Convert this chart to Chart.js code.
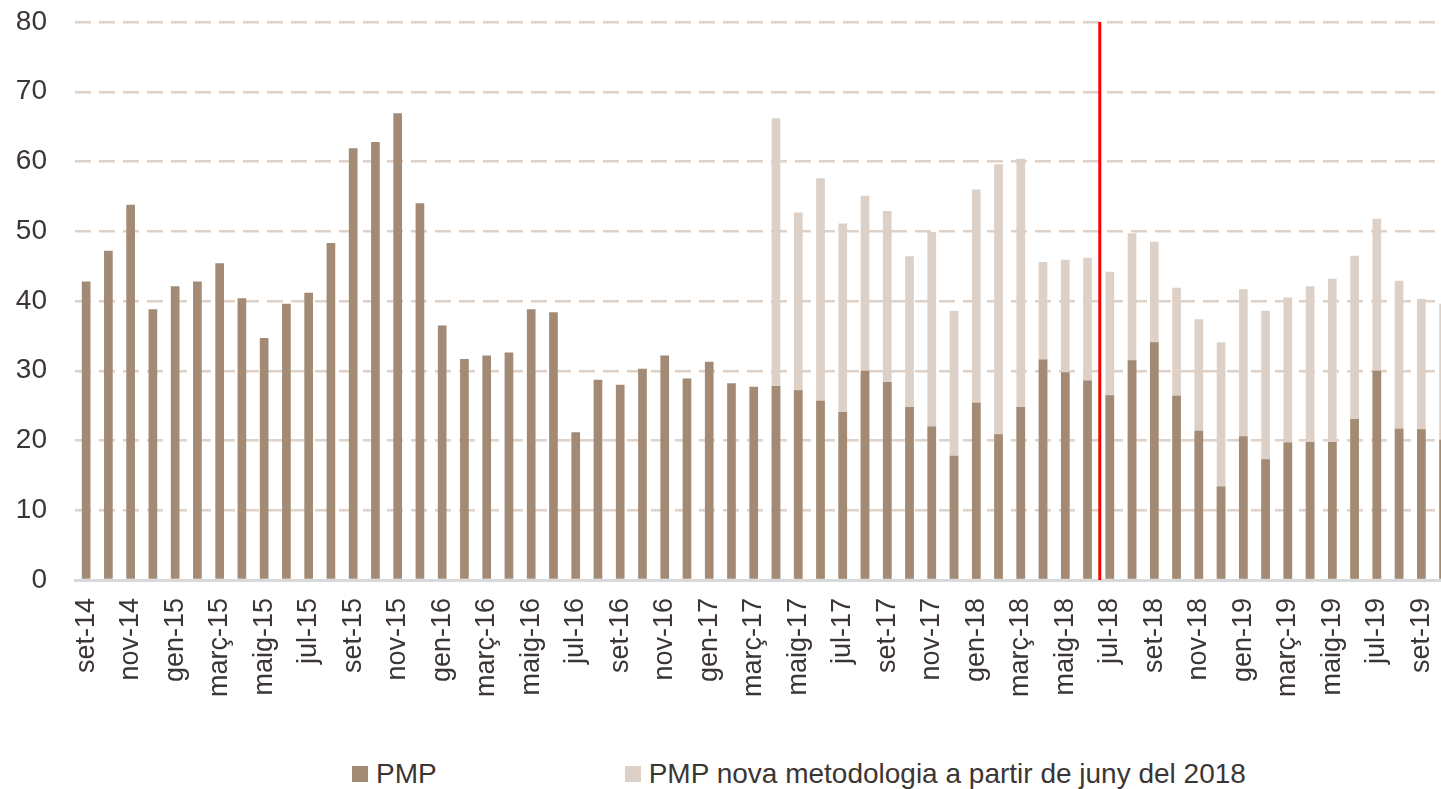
<!DOCTYPE html>
<html lang="ca">
<head>
<meta charset="utf-8">
<title>PMP</title>
<script src="https://cdn.jsdelivr.net/npm/chart.js@4/dist/chart.umd.min.js"></script>
<style>
    html, body {
        margin: 0;
        padding: 0;
        background: #ffffff;
        overflow: hidden;
        width: 1441px;
        height: 789px;
    }
    #chartBox {
        position: absolute;
        left: 0;
        top: 0;
        width: 1494px;
        height: 730px;
    }
    #legend {
        position: absolute;
        left: 352px;
        top: 757px;
        height: 34px;
        display: flex;
        align-items: center;
        font-family: "Liberation Sans", Arial, sans-serif;
        font-size: 28px;
        color: #3b3633;
        white-space: nowrap;
    }
    .legend-item {
        display: flex;
        align-items: center;
    }
    .legend-box {
        width: 16px;
        height: 16px;
        margin-right: 8px;
    }
</style>
</head>
<body>
<div id="chartBox"><canvas id="pmpChart"></canvas></div>
<div id="legend"></div>

<script>
// months, set-14 .. oct-19
const labels = [
    'set-14', 'oct-14', 'nov-14', 'des-14',
    'gen-15', 'febr-15', 'març-15', 'abr-15', 'maig-15', 'juny-15', 'jul-15', 'ag-15', 'set-15', 'oct-15', 'nov-15', 'des-15',
    'gen-16', 'febr-16', 'març-16', 'abr-16', 'maig-16', 'juny-16', 'jul-16', 'ag-16', 'set-16', 'oct-16', 'nov-16', 'des-16',
    'gen-17', 'febr-17', 'març-17', 'abr-17', 'maig-17', 'juny-17', 'jul-17', 'ag-17', 'set-17', 'oct-17', 'nov-17', 'des-17',
    'gen-18', 'febr-18', 'març-18', 'abr-18', 'maig-18', 'juny-18', 'jul-18', 'ag-18', 'set-18', 'oct-18', 'nov-18', 'des-18',
    'gen-19', 'febr-19', 'març-19', 'abr-19', 'maig-19', 'juny-19', 'jul-19', 'ag-19', 'set-19', 'oct-19'
];

// PMP (old methodology)
const pmp = [
    42.8, 47.2, 53.8, 38.8,
    42.1, 42.8, 45.4, 40.4, 34.7, 39.6, 41.2, 48.3, 61.9, 62.8, 66.9, 54.0,
    36.5, 31.7, 32.2, 32.6, 38.8, 38.4, 21.2, 28.7, 28.0, 30.3, 32.2, 28.9,
    31.3, 28.2, 27.7, 27.8, 27.2, 25.7, 24.1, 30.0, 28.4, 24.8, 22.0, 17.8,
    25.4, 20.9, 24.8, 31.6, 29.8, 28.6, 26.5, 31.5, 34.1, 26.4, 21.4, 13.4,
    20.6, 17.3, 19.7, 19.8, 19.8, 23.1, 30.0, 21.7, 21.6, 20.1
];

// PMP nova metodologia (only from abr-17)
const pmpNova = [
    null, null, null, null,
    null, null, null, null, null, null, null, null, null, null, null, null,
    null, null, null, null, null, null, null, null, null, null, null, null,
    null, null, null, 66.2, 52.7, 57.6, 51.1, 55.1, 52.9, 46.4, 49.9, 38.6,
    56.0, 59.6, 60.4, 45.6, 45.9, 46.2, 44.2, 49.7, 48.5, 41.9, 37.4, 34.1,
    41.7, 38.6, 40.5, 42.1, 43.2, 46.5, 51.8, 42.9, 40.3, 39.6
];

const yTicks = [0, 10, 20, 30, 40, 50, 60, 70, 80];

const seriesNames = ['PMP', 'PMP nova metodologia a partir de juny del 2018'];
const seriesColors = ['#a28a75', '#ddd0c6'];

// red marker goes just before jul-18
const markerPos = labels.indexOf('jul-18') - 0.45;

const fontFamily = '"Liberation Sans", Arial, sans-serif';
const textColor = '#3b3633';

const markerLine = {
    id: 'markerLine',
    afterDatasetsDraw(chart) {
        const ctx = chart.ctx;
        const x = chart.scales.x.getPixelForValue(markerPos);
        const yTop = chart.scales.y.getPixelForValue(yTicks[yTicks.length - 1]);
        const yBottom = chart.scales.y.getPixelForValue(yTicks[0]);
        ctx.save();
        ctx.strokeStyle = '#ff0000';
        ctx.lineWidth = 3;
        ctx.beginPath();
        ctx.moveTo(x, yTop);
        ctx.lineTo(x, yBottom);
        ctx.stroke();
        ctx.restore();
    }
};

new Chart(document.getElementById('pmpChart'), {
    type: 'bar',
    data: {
        labels: labels,
        datasets: [{
            label: seriesNames[0],
            data: pmp,
            backgroundColor: seriesColors[0],
            categoryPercentage: 1,
            barPercentage: 0.39
        }, {
            label: seriesNames[1],
            data: pmpNova,
            backgroundColor: seriesColors[1],
            categoryPercentage: 1,
            barPercentage: 0.39
        }]
    },
    options: {
        responsive: true,
        maintainAspectRatio: false,
        animation: false,
        layout: {
            padding: { top: 0, right: 0, bottom: 0, left: 0 }
        },
        plugins: {
            legend: { display: false },
            tooltip: { enabled: false }
        },
        scales: {
            x: {
                stacked: true,
                z: 1,
                grid: { display: false, drawTicks: false },
                border: { display: true, color: '#d9d9d9', width: 3 },
                ticks: {
                    autoSkip: false,
                    minRotation: 90,
                    maxRotation: 90,
                    padding: 18,
                    color: textColor,
                    font: { family: fontFamily, size: 27 },
                    callback: (value, index) => index % 2 === 0 ? labels[index] : ''
                },
                afterFit(scale) { scale.height = 150; }
            },
            y: {
                stacked: false,
                min: yTicks[0],
                max: yTicks[yTicks.length - 1],
                grid: { color: '#dfd1c6', lineWidth: 2.5, drawTicks: false },
                border: { display: false, dash: [16, 8] },
                ticks: {
                    stepSize: 10,
                    padding: 28,
                    color: textColor,
                    font: { family: fontFamily, size: 28 }
                },
                afterFit(scale) {
                    scale.width = 75;
                    // tick padding would push the plot down, keep the top tight
                    scale.paddingTop = 22;
                    scale.paddingBottom = 0;
                }
            }
        }
    },
    plugins: [markerLine]
});

// legend
document.getElementById('legend').innerHTML = seriesNames.map((name, i) => `
    <div class="legend-item" style="margin-right:${i === 0 ? 188 : 0}px">
        <span class="legend-box" style="background:${seriesColors[i]}"></span>
        <span>${name}</span>
    </div>
`).join('');
</script>
</body>
</html>
